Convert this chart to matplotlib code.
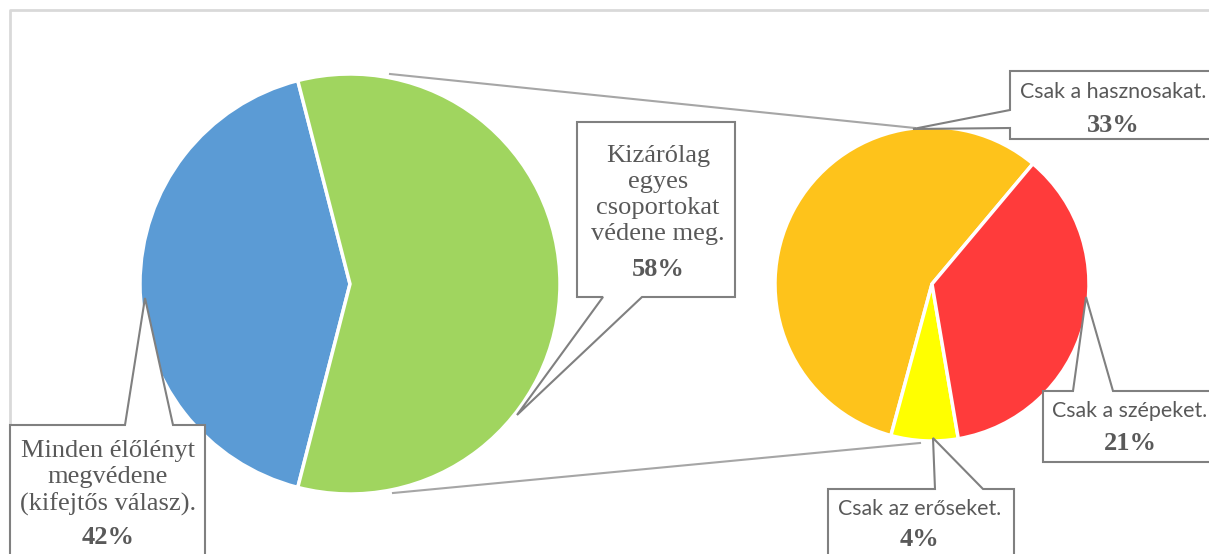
import matplotlib.pyplot as plt
from matplotlib.patches import Polygon

# data
main_labels = ["Minden élőlényt\nmegvédene\n(kifejtős válasz).", "Kizárólag\negyes\ncsoportokat\nvédene meg."]
main_values = [42, 58]
main_colors = ["#5B9BD5", "#A0D55F"]

sub_labels = ["Csak a hasznosakat.", "Csak az erőseket.", "Csak a szépeket."]
sub_values = [33, 4, 21]
sub_colors = ["#FEC31B", "#FFFF00", "#FF3B3B"]

W, H = 1209, 554
TXT = "#595959"
EDGE = "#808080"
SERIF = ["Liberation Serif", "DejaVu Serif"]
SANS = ["Lato", "DejaVu Sans"]


def Y(y):
    # layout positions are measured from the top of the picture
    return H - y


def callout(ax, box, gap, tip, side):
    x0, y0, x1, y1 = box
    g0, g1 = gap
    if side == "top":
        pts = [(x0, y0), (g0, y0), tip, (g1, y0), (x1, y0), (x1, y1), (x0, y1)]
    elif side == "bottom":
        pts = [(x0, y0), (x1, y0), (x1, y1), (g1, y1), tip, (g0, y1), (x0, y1)]
    else:  # left
        pts = [(x0, y0), (x1, y0), (x1, y1), (x0, y1), (x0, g1), tip, (x0, g0)]
    pts = [(px, Y(py)) for px, py in pts]
    ax.add_patch(Polygon(pts, closed=True, facecolor="white", edgecolor=EDGE,
                         linewidth=1.5, zorder=5))


fig = plt.figure(figsize=(W / 100, H / 100), dpi=100)
ax = fig.add_axes([0, 0, 1, 1])

c_main, r_main = (350, Y(284)), 210
c_sub, r_sub = (932, Y(284)), 157

ax.pie(main_values, colors=main_colors, startangle=180 - main_values[0] * 3.6 / 2,
       center=c_main, radius=r_main, frame=True,
       wedgeprops=dict(edgecolor="white", linewidth=2.5))
ax.pie(sub_values, colors=sub_colors, startangle=50,
       center=c_sub, radius=r_sub, frame=True,
       wedgeprops=dict(edgecolor="white", linewidth=2.5))

# connector lines between the two pies
ax.plot([390, 915], [Y(74), Y(128)], color="#A6A6A6", lw=1.5, zorder=1)
ax.plot([393, 920], [Y(493), Y(443)], color="#A6A6A6", lw=1.5, zorder=1)

# chart frame
ax.plot([9.5, 9.5, W + 5], [-5, Y(9.5), Y(9.5)], color="#D9D9D9", lw=2, zorder=0)

# callouts of the main pie
callout(ax, (10, 425, 205, 600), (125, 173), (145, 298), "top")
ax.text(108, Y(478), main_labels[0], ha="center", va="center", color=TXT,
        fontsize=19, family=SERIF, linespacing=1.25, zorder=6)
ax.text(108, Y(537), f"{main_values[0]}%", ha="center", va="center", color=TXT,
        fontsize=19, family=SERIF, fontweight="bold", zorder=6)

callout(ax, (577, 122, 735, 297), (603, 642), (517, 415), "bottom")
ax.text(658, Y(195), main_labels[1], ha="center", va="center", color=TXT,
        fontsize=19, family=SERIF, linespacing=1.25, zorder=6)
ax.text(658, Y(269), f"{main_values[1]}%", ha="center", va="center", color=TXT,
        fontsize=19, family=SERIF, fontweight="bold", zorder=6)

# callouts of the sub pie
sub_boxes = [
    ((1010, 71, 1230, 139), (110, 128), (913, 129), "left", (1113, 92), (1113, 125)),
    ((828, 489, 1014, 600), (935, 983), (933, 438), "top", (920, 509), (920, 540)),
    ((1043, 391, 1230, 462), (1073, 1113), (1086, 297), "top", (1130, 411), (1130, 443)),
]
for lab, val, (box, gap, tip, side, tpos, vpos) in zip(sub_labels, sub_values, sub_boxes):
    callout(ax, box, gap, tip, side)
    ax.text(tpos[0], Y(tpos[1]), lab, ha="center", va="center", color=TXT,
            fontsize=15.4, family=SANS, zorder=6)
    ax.text(vpos[0], Y(vpos[1]), f"{val}%", ha="center", va="center", color=TXT,
            fontsize=19, family=SERIF, fontweight="bold", zorder=6)

ax.set_xlim(0, W)
ax.set_ylim(0, H)
ax.axis("off")

fig.savefig("out.png", dpi=100)
